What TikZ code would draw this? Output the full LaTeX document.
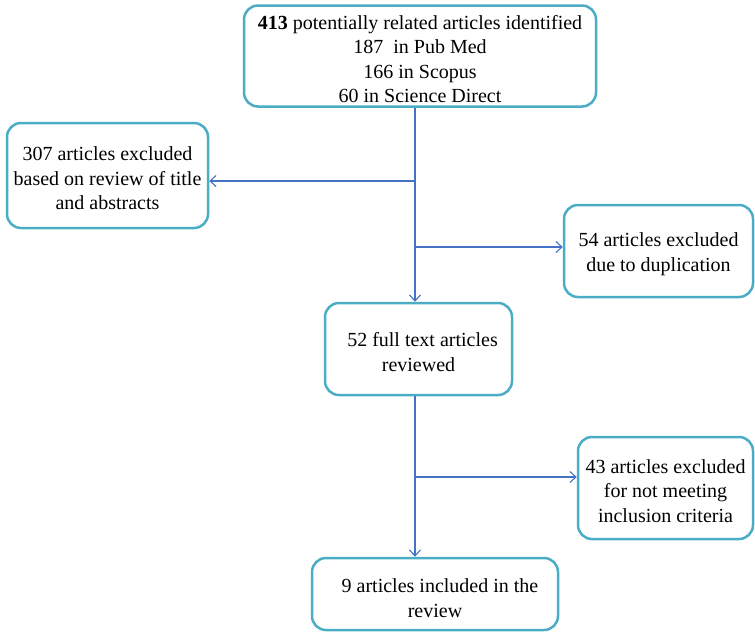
\documentclass[tikz,border=0pt]{standalone}
\usepackage{fontspec}
\setmainfont{Liberation Serif}
\usetikzlibrary{arrows.meta}
\definecolor{boxc}{HTML}{4BACC6}
\definecolor{linec}{HTML}{4472C4}
\newcommand{\topstrut}{\rule{0pt}{20pt}}
\tikzset{
  fbox/.style={draw=boxc, line width=2.5pt, rounded corners=14pt, inner sep=0pt,
    align=center, font=\fontsize{20}{24.5}\selectfont, text=black},
  conn/.style={draw=linec, line width=1.1pt, -{Straight Barb[length=6pt,width=11pt]}}
}
\begin{document}
\begin{tikzpicture}[x=1pt,y=-1pt]
\useasboundingbox (0,0) rectangle (755,633);
\node[fbox, minimum width=352pt, minimum height=101pt] (top) at (420,56)
  {\topstrut\textbf{413} potentially related articles identified\\187\ \ in Pub Med\\166 in Scopus\\60 in Science Direct};
\node[fbox, minimum width=201pt, minimum height=105pt] (left) at (107.5,175.5)
  {\topstrut 307 articles excluded\\based on review of title\\and abstracts};
\node[fbox, minimum width=189pt, minimum height=92pt] (dup) at (658.5,251)
  {\topstrut 54 articles excluded\\due to duplication};
\node[fbox, minimum width=187pt, minimum height=92pt] (full) at (418.5,349)
  {\topstrut\hspace*{8pt}52 full text articles\\reviewed};
\node[fbox, minimum width=175pt, minimum height=102pt] (crit) at (665.5,488)
  {\topstrut 43 articles excluded\\for not meeting\\inclusion criteria};
\node[fbox, minimum width=246pt, minimum height=72pt] (final) at (435,594)
  {\rule{0pt}{22pt}\hspace*{10pt}9 articles included in the\\review};
\coordinate (axis) at (415,0);
\coordinate (j1) at (415,181);
\coordinate (j2) at (415,247);
\coordinate (j3) at (415,477);
\draw[conn] (top.south -| axis) -- (full.north -| axis);
\draw[conn] (j1) -- (j1 -| left.east);
\draw[conn] (j2) -- (j2 -| dup.west);
\draw[conn] (full.south -| axis) -- (final.north -| axis);
\draw[conn] (j3) -- (j3 -| crit.west);
\end{tikzpicture}
\end{document}
